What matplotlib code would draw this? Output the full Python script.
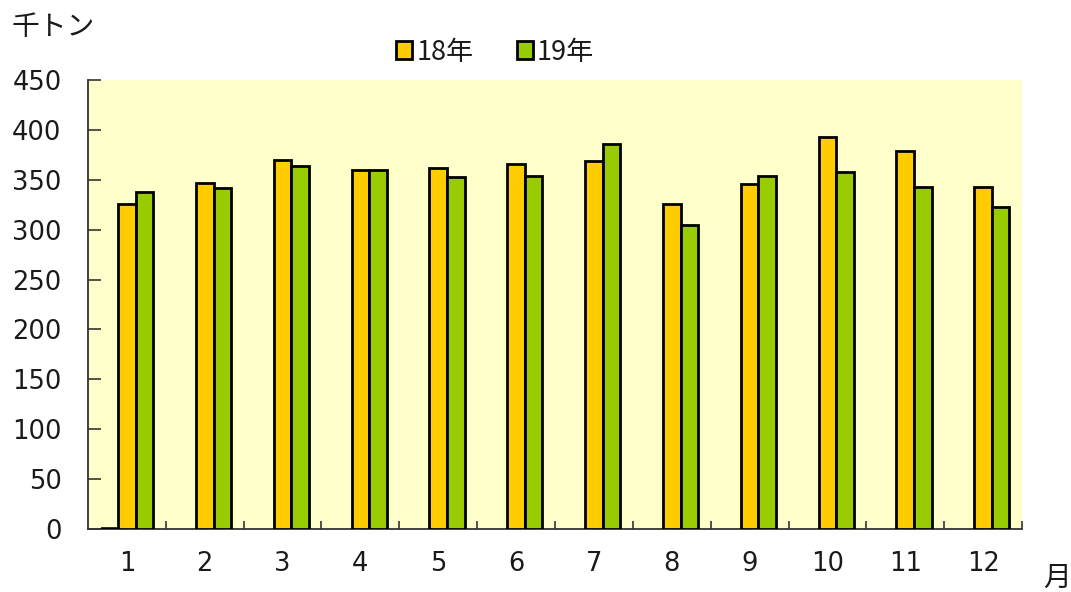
import numpy as np
import matplotlib
matplotlib.use("Agg")
import matplotlib.pyplot as plt

months = ["1", "2", "3", "4", "5", "6", "7", "8", "9", "10", "11", "12"]
s_prev = [0] + [np.nan] * 11
s18 = [326, 347, 370, 360, 362, 366, 369, 326, 346, 393, 379, 343]
s19 = [338, 342, 364, 360, 353, 354, 386, 305, 354, 358, 343, 323]
series_labels = ["18年", "19年"]
yticks = [0, 50, 100, 150, 200, 250, 300, 350, 400, 450]

plt.rcParams['font.family'] = ['DejaVu Sans', 'Noto Sans CJK JP']
cjk = ['Noto Sans CJK JP', 'DejaVu Sans']

fig = plt.figure(figsize=(10.71, 5.92), dpi=100)
ax = fig.add_axes([88/1071, 1-529/592, (1022-88)/1071, (529-80)/592])
ax.set_facecolor('#FFFFCC')

x = np.arange(1, len(months) + 1)
w = 0.225
ax.bar(x - w, s_prev, width=w, color='#FFCC00', edgecolor='black', linewidth=2.6, zorder=3)
ax.bar(x, s18, width=w, color='#FFCC00', edgecolor='black', linewidth=2.0, label=series_labels[0], zorder=3)
ax.bar(x + w, s19, width=w, color='#99CC00', edgecolor='black', linewidth=2.0, label=series_labels[1], zorder=3)

ax.set_xlim(0.5, 12.5)
ax.set_ylim(0, 450)
ax.set_yticks(yticks)
ax.set_yticklabels([str(v) for v in yticks])
ax.set_xticks(x)
ax.set_xticklabels(months)
ax.set_xticks(np.arange(1.5, 12.6, 1.0), minor=True)
ax.tick_params(axis='x', which='major', length=0, pad=16, labelsize=18.5)
ax.tick_params(axis='x', which='minor', direction='in', length=6, width=1.2, color='#333333')
ax.tick_params(axis='y', direction='in', length=9, width=1.2, color='#333333', pad=19, labelsize=18.5)
for t in ax.get_yticklabels() + ax.get_xticklabels():
    t.set_color('#1a1a1a')

for s in ['top', 'right']:
    ax.spines[s].set_visible(False)
for s in ['left', 'bottom']:
    ax.spines[s].set_color('#333333')
    ax.spines[s].set_linewidth(1.3)

fig.text(12/1071, 1-27/592, "千トン", family=cjk, fontsize=20, va='center', ha='left', color='#1a1a1a')
fig.text(1057/1071, 1-578/592, "月", family=cjk, fontsize=20, va='center', ha='center', color='#1a1a1a')

leg = fig.legend(loc='center', bbox_to_anchor=(495/1071, 1-52/592), ncol=2, frameon=False,
                 handlelength=0.6, handleheight=0.6, handletextpad=0.15, columnspacing=1.6,
                 prop={'family': cjk, 'size': 19.5})
for t in leg.get_texts():
    t.set_color('#1a1a1a')
for h in leg.legend_handles:
    h.set_linewidth(2.0)

fig.savefig("out.png", dpi=100)
